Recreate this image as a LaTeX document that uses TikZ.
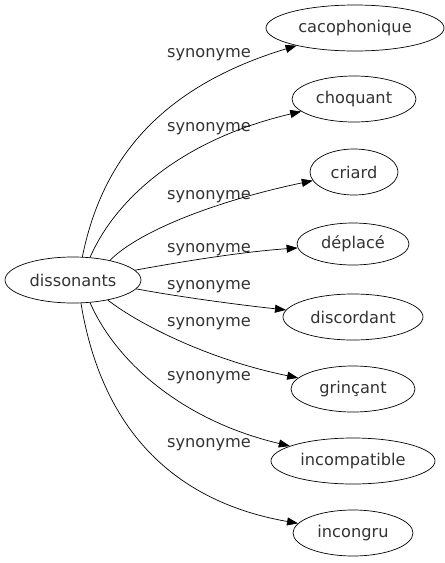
\documentclass[tikz,border=0pt]{standalone}
\usepackage{fontspec}
\setmainfont{DejaVu Sans}
\usepackage{tikz}
\usetikzlibrary{shapes,arrows.meta}

\begin{document}
\begin{tikzpicture}[x=1pt,y=-1pt,line width=0.7pt,
	font=\fontsize{16.2}{19}\selectfont,
	every node/.style={text=black!80},
	word/.style={draw=black,ellipse,inner sep=0pt,minimum height=46pt},
	syn/.style={-{Triangle[length=11pt,width=8pt]}}]
	\useasboundingbox (0,0) rectangle (445,563);
	\node[word,minimum width=136pt] (diss)  at (73,280)  {dissonants};
	\node[word,minimum width=178pt] (caco)  at (355,28)  {cacophonique};
	\node[word,minimum width=124pt] (choq)  at (354,99)  {choquant};
	\node[word,minimum width=88pt]  (cria)  at (354,172) {criard};
	\node[word,minimum width=112pt,minimum height=42pt] (depl) at (353,244) {déplacé};
	\node[word,minimum width=140pt] (disc)  at (353,317) {discordant};
	\node[word,minimum width=124pt] (grin)  at (353,389) {grinçant};
	\node[word,minimum width=164pt] (incp)  at (353,461) {incompatible};
	\node[word,minimum width=120pt] (incg)  at (353,533) {incongru};
	\node (l1) at (209,55)  {synonyme};
	\node (l2) at (209,129) {synonyme};
	\node (l3) at (209,197) {synonyme};
	\node (l4) at (209,250) {synonyme};
	\node (l5) at (209,287) {synonyme};
	\node (l6) at (209,324) {synonyme};
	\node (l7) at (209,378) {synonyme};
	\node (l8) at (209,445) {synonyme};
	\draw[syn] (diss.68)  .. controls (100,170) and (150,90)  .. (caco);
	\draw[syn] (diss.53)  .. controls (115,200) and (180,140) .. (choq);
	\draw[syn] (diss.28)  .. controls (140,230) and (220,200) .. (cria);
	\draw[syn] (diss.9)   .. controls (180,262) and (240,252) .. (depl);
	\draw[syn] (diss.-8)  .. controls (180,297) and (240,305) .. (disc);
	\draw[syn] (diss.-30) .. controls (140,325) and (210,360) .. (grin);
	\draw[syn] (diss.-53) .. controls (115,360) and (180,420) .. (incp);
	\draw[syn] (diss.-71) .. controls (100,420) and (165,500) .. (incg);
\end{tikzpicture}
\end{document}
